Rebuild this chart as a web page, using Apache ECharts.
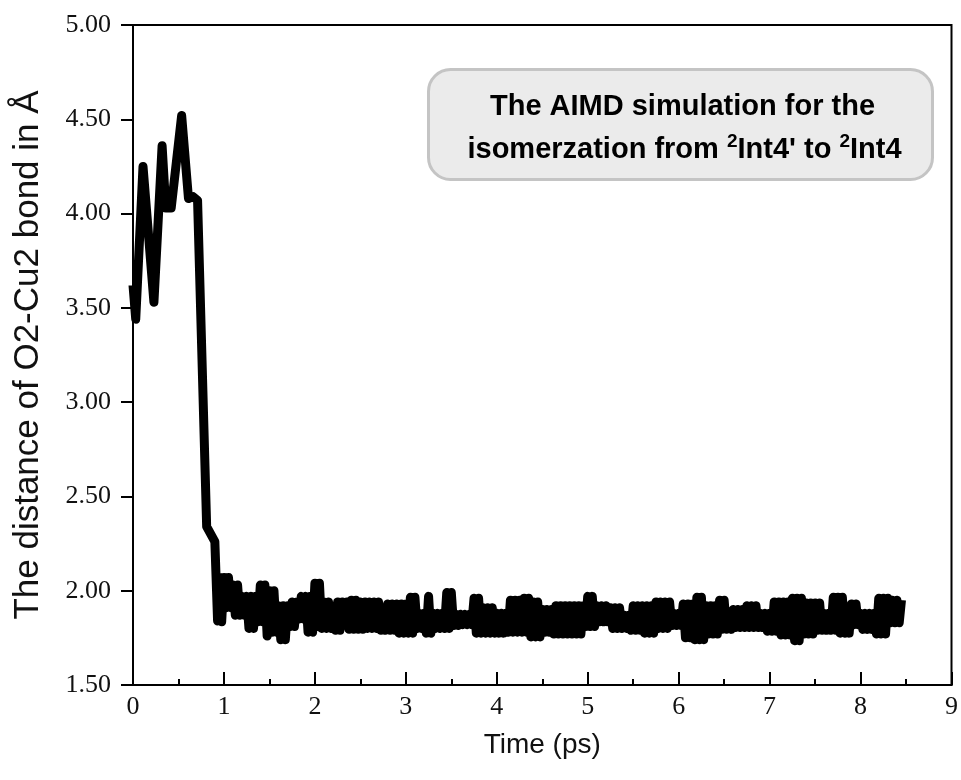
<!DOCTYPE html>
<html>
<head>
<meta charset="utf-8">
<script src="https://cdn.jsdelivr.net/npm/echarts@6/dist/echarts.min.js"></script>
<style>html,body{margin:0;padding:0;background:#fff}#c{width:961px;height:780px}</style>
</head>
<body>
<div id="c"></div>
<script>
// Initial transient: time (ps) and O2-Cu2 distance (Å)
var transientTime = [0.00, 0.03, 0.11, 0.23, 0.32, 0.36, 0.42, 0.535, 0.61, 0.66, 0.71, 0.81, 0.90, 0.93];
var transientDist = [3.62, 3.44, 4.25, 3.53, 4.36, 4.03, 4.03, 4.52, 4.08, 4.09, 4.07, 2.34, 2.26, 1.84];

// Fluctuation phase: upper swings of the oscillation
var upperTime = [
  0.95, 1.00, 1.05, 1.10, 1.15, 1.20, 1.25, 1.30, 1.35, 1.40, 1.45, 1.50, 1.55, 1.60, 1.65, 1.70,
  1.75, 1.80, 1.85, 1.90, 1.95, 2.00, 2.05, 2.10, 2.15, 2.20, 2.25, 2.30, 2.35, 2.40, 2.45, 2.50,
  2.55, 2.60, 2.65, 2.70, 2.75, 2.80, 2.85, 2.90, 2.95, 3.00, 3.05, 3.10, 3.15, 3.20, 3.25, 3.30,
  3.35, 3.40, 3.45, 3.50, 3.55, 3.60, 3.65, 3.70, 3.75, 3.80, 3.85, 3.90, 3.95, 4.00, 4.05, 4.10,
  4.15, 4.20, 4.25, 4.30, 4.35, 4.40, 4.45, 4.50, 4.55, 4.60, 4.65, 4.70, 4.75, 4.80, 4.85, 4.90,
  4.95, 5.00, 5.05, 5.10, 5.15, 5.20, 5.25, 5.30, 5.35, 5.40, 5.45, 5.50, 5.55, 5.60, 5.65, 5.70,
  5.75, 5.80, 5.85, 5.90, 5.95, 6.00, 6.05, 6.10, 6.15, 6.20, 6.25, 6.30, 6.35, 6.40, 6.45, 6.50,
  6.55, 6.60, 6.65, 6.70, 6.75, 6.80, 6.85, 6.90, 6.95, 7.00, 7.05, 7.10, 7.15, 7.20, 7.25, 7.30,
  7.35, 7.40, 7.45, 7.50, 7.55, 7.60, 7.65, 7.70, 7.75, 7.80, 7.85, 7.90, 7.95, 8.00, 8.05, 8.10,
  8.15, 8.20, 8.25, 8.30, 8.35, 8.40, 8.45
];
var upperDist = [
  2.07, 2.07, 2.07, 2.03, 2.03, 1.97, 1.97, 1.97, 1.97, 2.03, 2.03, 2.00, 2.00, 1.92, 1.92, 1.92,
  1.94, 1.94, 1.97, 1.97, 1.97, 2.04, 2.04, 1.94, 1.94, 1.89, 1.94, 1.94, 1.94, 1.95, 1.95, 1.94,
  1.94, 1.94, 1.94, 1.94, 1.87, 1.93, 1.93, 1.93, 1.93, 1.93, 1.965, 1.965, 1.88, 1.88, 1.97, 1.88,
  1.88, 1.88, 1.99, 1.99, 1.875, 1.875, 1.875, 1.875, 1.96, 1.96, 1.91, 1.91, 1.91, 1.88, 1.88, 1.88,
  1.95, 1.95, 1.95, 1.96, 1.96, 1.94, 1.94, 1.90, 1.90, 1.90, 1.92, 1.92, 1.92, 1.92, 1.92, 1.92,
  1.92, 1.97, 1.97, 1.92, 1.92, 1.92, 1.91, 1.91, 1.91, 1.87, 1.87, 1.92, 1.92, 1.92, 1.92, 1.92,
  1.94, 1.94, 1.94, 1.94, 1.88, 1.88, 1.93, 1.93, 1.93, 1.965, 1.965, 1.92, 1.92, 1.92, 1.95, 1.95,
  1.86, 1.90, 1.90, 1.90, 1.92, 1.92, 1.92, 1.88, 1.88, 1.88, 1.94, 1.94, 1.94, 1.94, 1.96, 1.96,
  1.96, 1.935, 1.935, 1.935, 1.935, 1.88, 1.88, 1.965, 1.965, 1.965, 1.88, 1.93, 1.93, 1.88, 1.88, 1.88,
  1.88, 1.96, 1.96, 1.96, 1.95, 1.95, 1.95
];

// Fluctuation phase: lower swings of the oscillation
var lowerTime = [
  0.975, 1.025, 1.075, 1.125, 1.175, 1.225, 1.275, 1.325, 1.375, 1.425, 1.475, 1.525, 1.575, 1.625, 1.675, 1.725,
  1.775, 1.825, 1.875, 1.925, 1.975, 2.025, 2.075, 2.125, 2.175, 2.225, 2.275, 2.325, 2.375, 2.425, 2.475, 2.525,
  2.575, 2.625, 2.675, 2.725, 2.775, 2.825, 2.875, 2.925, 2.975, 3.025, 3.075, 3.125, 3.175, 3.225, 3.275, 3.325,
  3.375, 3.425, 3.475, 3.525, 3.575, 3.625, 3.675, 3.725, 3.775, 3.825, 3.875, 3.925, 3.975, 4.025, 4.075, 4.125,
  4.175, 4.225, 4.275, 4.325, 4.375, 4.425, 4.475, 4.525, 4.575, 4.625, 4.675, 4.725, 4.775, 4.825, 4.875, 4.925,
  4.975, 5.025, 5.075, 5.125, 5.175, 5.225, 5.275, 5.325, 5.375, 5.425, 5.475, 5.525, 5.575, 5.625, 5.675, 5.725,
  5.775, 5.825, 5.875, 5.925, 5.975, 6.025, 6.075, 6.125, 6.175, 6.225, 6.275, 6.325, 6.375, 6.425, 6.475, 6.525,
  6.575, 6.625, 6.675, 6.725, 6.775, 6.825, 6.875, 6.925, 6.975, 7.025, 7.075, 7.125, 7.175, 7.225, 7.275, 7.325,
  7.375, 7.425, 7.475, 7.525, 7.575, 7.625, 7.675, 7.725, 7.775, 7.825, 7.875, 7.925, 7.975, 8.025, 8.075, 8.125,
  8.175, 8.225, 8.275, 8.325, 8.375, 8.425
];
var lowerDist = [
  1.835, 1.91, 1.91, 1.87, 1.87, 1.87, 1.80, 1.80, 1.835, 1.835, 1.76, 1.78, 1.78, 1.74, 1.74, 1.81,
  1.81, 1.85, 1.85, 1.78, 1.78, 1.81, 1.80, 1.80, 1.80, 1.79, 1.79, 1.84, 1.795, 1.795, 1.795, 1.795,
  1.80, 1.80, 1.80, 1.79, 1.79, 1.79, 1.79, 1.775, 1.775, 1.775, 1.775, 1.80, 1.80, 1.775, 1.775, 1.80,
  1.80, 1.80, 1.80, 1.815, 1.815, 1.82, 1.82, 1.82, 1.775, 1.775, 1.775, 1.775, 1.775, 1.775, 1.775, 1.78,
  1.78, 1.78, 1.78, 1.78, 1.755, 1.755, 1.755, 1.78, 1.78, 1.77, 1.77, 1.77, 1.77, 1.77, 1.77, 1.77,
  1.81, 1.81, 1.81, 1.835, 1.835, 1.835, 1.80, 1.80, 1.80, 1.80, 1.79, 1.79, 1.79, 1.775, 1.775, 1.775,
  1.80, 1.80, 1.80, 1.815, 1.815, 1.815, 1.75, 1.75, 1.74, 1.74, 1.74, 1.77, 1.77, 1.77, 1.795, 1.795,
  1.795, 1.805, 1.805, 1.805, 1.805, 1.805, 1.805, 1.805, 1.785, 1.785, 1.785, 1.765, 1.765, 1.765, 1.735, 1.735,
  1.77, 1.77, 1.77, 1.79, 1.79, 1.79, 1.79, 1.79, 1.775, 1.775, 1.775, 1.82, 1.82, 1.795, 1.795, 1.795,
  1.77, 1.77, 1.77, 1.83, 1.83, 1.83
];

var xTicks = [0, 1, 2, 3, 4, 5, 6, 7, 8, 9];
var yTicks = [1.5, 2.0, 2.5, 3.0, 3.5, 4.0, 4.5, 5.0];
var xTitle = 'Time (ps)';
var yTitle = 'The distance of O2-Cu2 bond in Å';
var noteLine1 = 'The AIMD simulation for the';

// Build the trajectory (ordered by time) from the arrays above
var points = [];
transientTime.forEach(function (t, i) { points.push([t, transientDist[i]]); });
upperTime.forEach(function (t, i) { points.push([t, upperDist[i]]); });
lowerTime.forEach(function (t, i) { points.push([t, lowerDist[i]]); });
points.sort(function (a, b) { return a[0] - b[0]; });

var upperPts = upperTime.map(function (t, i) { return [t, upperDist[i]]; });
var lowerPts = lowerTime.map(function (t, i) { return [t, lowerDist[i]]; });

var chart = echarts.init(document.getElementById('c'), null, { renderer: 'canvas' });
var tickFont = { fontFamily: 'Liberation Serif', fontSize: 26, color: '#111' };
chart.setOption({
  animation: false,
  backgroundColor: '#fff',
  grid: { left: 133, right: 9, top: 25, bottom: 95, show: true, borderColor: '#000', borderWidth: 2, backgroundColor: 'transparent' },
  xAxis: {
    type: 'value', min: xTicks[0], max: xTicks[xTicks.length - 1], interval: 1,
    name: xTitle, nameLocation: 'middle', nameGap: 46,
    nameTextStyle: { fontFamily: 'Liberation Sans', fontSize: 28, color: '#111' },
    axisLine: { show: true, onZero: false, lineStyle: { color: '#000', width: 2 } },
    axisTick: { show: true, inside: true, length: 13, lineStyle: { color: '#000', width: 2 } },
    minorTick: { show: true, splitNumber: 2, length: 6, lineStyle: { color: '#000', width: 2 } },
    axisLabel: Object.assign({ margin: 9, showMinLabel: true, showMaxLabel: true }, tickFont),
    splitLine: { show: false }
  },
  yAxis: {
    type: 'value', min: yTicks[0], max: yTicks[yTicks.length - 1], interval: 0.5,
    name: yTitle, nameLocation: 'middle', nameGap: 87, nameRotate: 90,
    nameTextStyle: { fontFamily: 'Liberation Sans', fontSize: 35, color: '#111' },
    axisLine: { show: true, onZero: false, lineStyle: { color: '#000', width: 2 } },
    axisTick: { show: true, inside: false, length: 12, lineStyle: { color: '#000', width: 2 } },
    axisLabel: Object.assign({ margin: 22, formatter: function (v) { return v.toFixed(2); } }, tickFont),
    splitLine: { show: false }
  },
  series: [{
    // solid interior of the rapid oscillation band (between the upper and lower swings)
    type: 'custom',
    data: upperPts,
    encode: { x: 0, y: 1 },
    clip: true,
    silent: true,
    renderItem: function (params, api) {
      if (params.dataIndex !== 0) return null;
      var poly = [];
      upperPts.forEach(function (p) { poly.push(api.coord(p)); });
      for (var i = lowerPts.length - 1; i >= 0; i--) poly.push(api.coord(lowerPts[i]));
      return { type: 'polygon', shape: { points: poly }, style: { fill: '#000', stroke: null } };
    }
  }, {
    type: 'line',
    data: points,
    showSymbol: false,
    symbol: 'none',
    clip: true,
    lineStyle: { color: '#000', width: 9, join: 'round', cap: 'butt' }
  }],
  graphic: [{
    type: 'group',
    left: 427, top: 68,
    children: [{
      type: 'rect',
      shape: { x: 0, y: 0, width: 504, height: 110, r: 22 },
      style: { fill: '#ebebeb', stroke: '#c4c4c4', lineWidth: 3 }
    }, {
      type: 'text',
      x: 254, y: 37,
      style: {
        text: noteLine1, align: 'center', verticalAlign: 'middle',
        fontFamily: 'Liberation Sans', fontWeight: 'bold', fontSize: 29, fill: '#000'
      }
    }, {
      type: 'text',
      x: 256, y: 80,
      style: {
        text: '{n|isomerzation from }{s|2}{n|Int4\' to }{s|2}{n|Int4}',
        align: 'center', verticalAlign: 'middle',
        rich: {
          n: { fontFamily: 'Liberation Sans', fontWeight: 'bold', fontSize: 29, fill: '#000', lineHeight: 34 },
          s: { fontFamily: 'Liberation Sans', fontWeight: 'bold', fontSize: 19, fill: '#000', lineHeight: 34, verticalAlign: 'top', padding: [0, 0, 14, 0] }
        }
      }
    }]
  }]
});
</script>
</body>
</html>
